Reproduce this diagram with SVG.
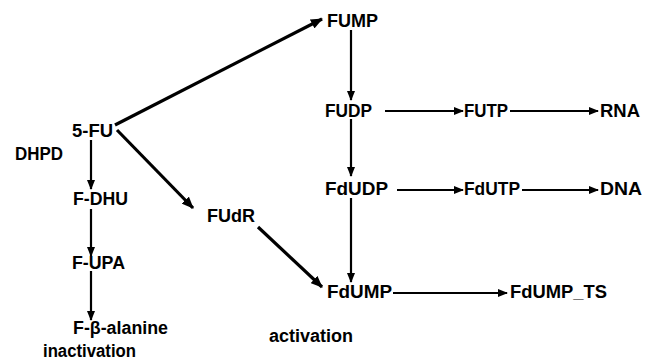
<svg xmlns="http://www.w3.org/2000/svg" width="653" height="358" viewBox="0 0 653 358">
<style>
text{font-family:"Liberation Sans",Arial,sans-serif;font-weight:bold;font-size:18px;fill:#000}
.c{stroke:#000;stroke-width:2.2;fill:none}
.d{stroke:#000;stroke-width:3.2;fill:none}
</style>
<defs>
<marker id="ah" markerUnits="userSpaceOnUse" markerWidth="10" markerHeight="8" refX="9" refY="4" orient="auto">
<path d="M0,0 L10,4 L0,8 Z" fill="#000"/>
</marker>
<marker id="ahb" markerUnits="userSpaceOnUse" markerWidth="12" markerHeight="10" refX="11" refY="5" orient="auto">
<path d="M0,0 L12,5 L0,10 Z" fill="#000"/>
</marker>
</defs>
<g id="connectors">
<line class="d" x1="115" y1="125" x2="322" y2="19" marker-end="url(#ahb)"/>
<line class="d" x1="117" y1="130" x2="193" y2="208" marker-end="url(#ahb)"/>
<line class="d" x1="258" y1="227" x2="322" y2="287" marker-end="url(#ahb)"/>
<line class="c" x1="91" y1="140" x2="91" y2="189" marker-end="url(#ah)"/>
<line class="c" x1="91" y1="209" x2="91" y2="256" marker-end="url(#ah)"/>
<line class="c" x1="91" y1="271" x2="91" y2="320" marker-end="url(#ah)"/>
<line class="c" x1="351" y1="30" x2="351" y2="100" marker-end="url(#ah)"/>
<line class="c" x1="351" y1="119" x2="351" y2="176" marker-end="url(#ah)"/>
<line class="c" x1="351" y1="198" x2="351" y2="282" marker-end="url(#ah)"/>
<line class="c" x1="385" y1="111" x2="463" y2="111" marker-end="url(#ah)"/>
<line class="c" x1="510" y1="111" x2="598" y2="111" marker-end="url(#ah)"/>
<line class="c" x1="397" y1="190" x2="463" y2="190" marker-end="url(#ah)"/>
<line class="c" x1="522" y1="190" x2="598" y2="190" marker-end="url(#ah)"/>
<line class="c" x1="393" y1="293" x2="507" y2="293" marker-end="url(#ah)"/>
</g>
<g id="n-5fu"><text x="72" y="137" textLength="41" lengthAdjust="spacingAndGlyphs">5-FU</text></g>
<g id="n-dhpd"><text x="15" y="160" textLength="48" lengthAdjust="spacingAndGlyphs">DHPD</text></g>
<g id="n-fdhu"><text x="73" y="205" textLength="55" lengthAdjust="spacingAndGlyphs">F-DHU</text></g>
<g id="n-fupa"><text x="72" y="269" textLength="53" lengthAdjust="spacingAndGlyphs">F-UPA</text></g>
<g id="n-fbala"><text x="73" y="334" textLength="95" lengthAdjust="spacingAndGlyphs">F-β-alanine</text></g>
<g id="n-inact"><text x="43" y="357" textLength="93" lengthAdjust="spacingAndGlyphs">inactivation</text></g>
<g id="n-fudr"><text x="207" y="222" textLength="48" lengthAdjust="spacingAndGlyphs">FUdR</text></g>
<g id="n-fump"><text x="327" y="27" textLength="51" lengthAdjust="spacingAndGlyphs">FUMP</text></g>
<g id="n-fudp"><text x="325" y="117" textLength="47" lengthAdjust="spacingAndGlyphs">FUDP</text></g>
<g id="n-futp"><text x="464" y="117" textLength="44" lengthAdjust="spacingAndGlyphs">FUTP</text></g>
<g id="n-rna"><text x="600" y="117" textLength="40" lengthAdjust="spacingAndGlyphs">RNA</text></g>
<g id="n-fdudp"><text x="325" y="195" textLength="63" lengthAdjust="spacingAndGlyphs">FdUDP</text></g>
<g id="n-fdutp"><text x="464" y="195" textLength="56" lengthAdjust="spacingAndGlyphs">FdUTP</text></g>
<g id="n-dna"><text x="600" y="195" textLength="42" lengthAdjust="spacingAndGlyphs">DNA</text></g>
<g id="n-fdump"><text x="327" y="298" textLength="65" lengthAdjust="spacingAndGlyphs">FdUMP</text></g>
<g id="n-fdumpts"><text x="510" y="298" textLength="97" lengthAdjust="spacingAndGlyphs">FdUMP_TS</text></g>
<g id="n-act"><text x="269" y="342" textLength="84" lengthAdjust="spacingAndGlyphs">activation</text></g>
</svg>
